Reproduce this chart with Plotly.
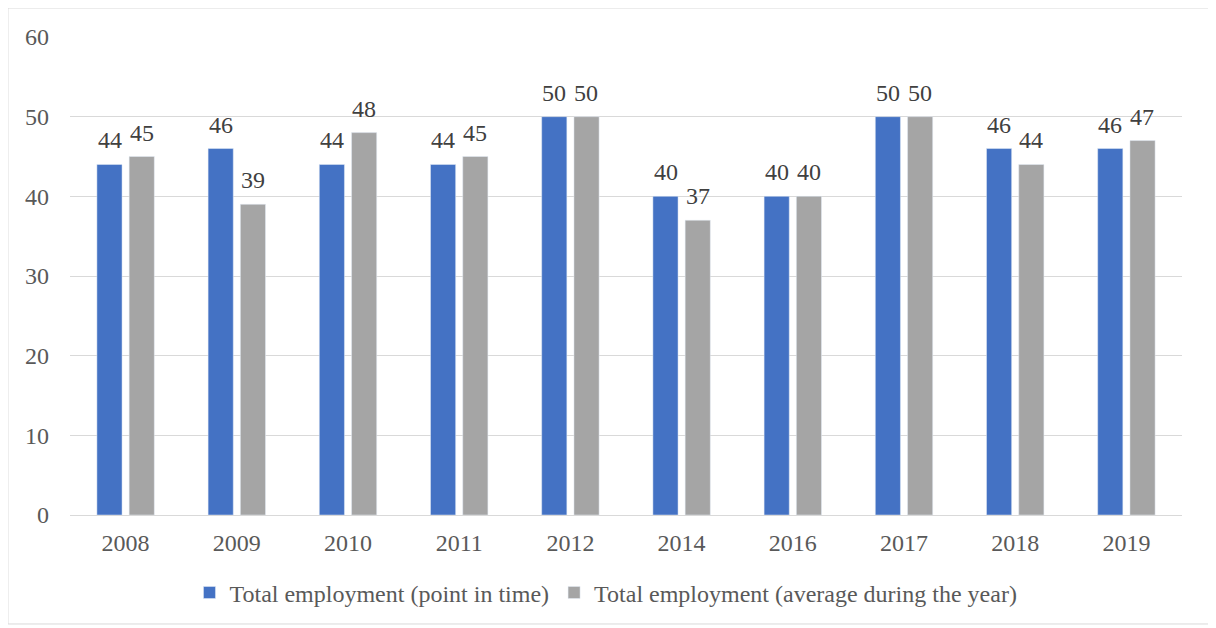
import plotly.graph_objects as go

years = ["2008", "2009", "2010", "2011", "2012", "2014", "2016", "2017", "2018", "2019"]
point_in_time = [44, 46, 44, 44, 50, 40, 40, 50, 46, 46]
average_year = [45, 39, 48, 45, 50, 37, 40, 50, 44, 47]
series_names = ["Total employment (point in time)", "Total employment (average during the year)"]

FONT = "Liberation Serif"

fig = go.Figure()
fig.add_trace(go.Bar(x=years, y=point_in_time, name=series_names[0], marker_color="#4472C4"))
fig.add_trace(go.Bar(x=years, y=average_year, name=series_names[1], marker_color="#A5A5A5"))

annotations = []
for series, shift in ((point_in_time, -16), (average_year, 16)):
    for idx, v in enumerate(series):
        annotations.append(dict(x=idx, y=v, xref="x", yref="y", text=str(v), showarrow=False,
                                xshift=shift, yshift=9, yanchor="bottom", xanchor="center",
                                font=dict(family=FONT, size=24, color="#404040")))

fig.update_layout(
    width=1216, height=628,
    margin=dict(l=62, r=42, t=29, b=121),
    paper_bgcolor="white", plot_bgcolor="white",
    font=dict(family=FONT, size=24, color="#595959"),
    barmode="group", bargap=0.42, bargroupgap=0.22,
    showlegend=True,
    legend=dict(orientation="h", x=0.482, xanchor="center", y=-0.163, yanchor="middle",
                font=dict(family=FONT, size=24, color="#595959")),
    xaxis=dict(type="category", showline=True, linecolor="#d9d9d9", linewidth=1, ticks="",
               ticklabelstandoff=6),
    yaxis=dict(range=[0, 60], dtick=10, showgrid=True, gridcolor="#d9d9d9", gridwidth=1,
               zeroline=False, ticks="", ticklabelstandoff=20),
    annotations=annotations,
    shapes=[dict(type="rect", xref="paper", yref="paper", x0=-0.0558, x1=1.0261, y0=-0.228, y1=1.0607,
                 line=dict(color="#d9d9d9", width=1), fillcolor="rgba(0,0,0,0)", layer="below")],
)

fig.write_html("out.html")
